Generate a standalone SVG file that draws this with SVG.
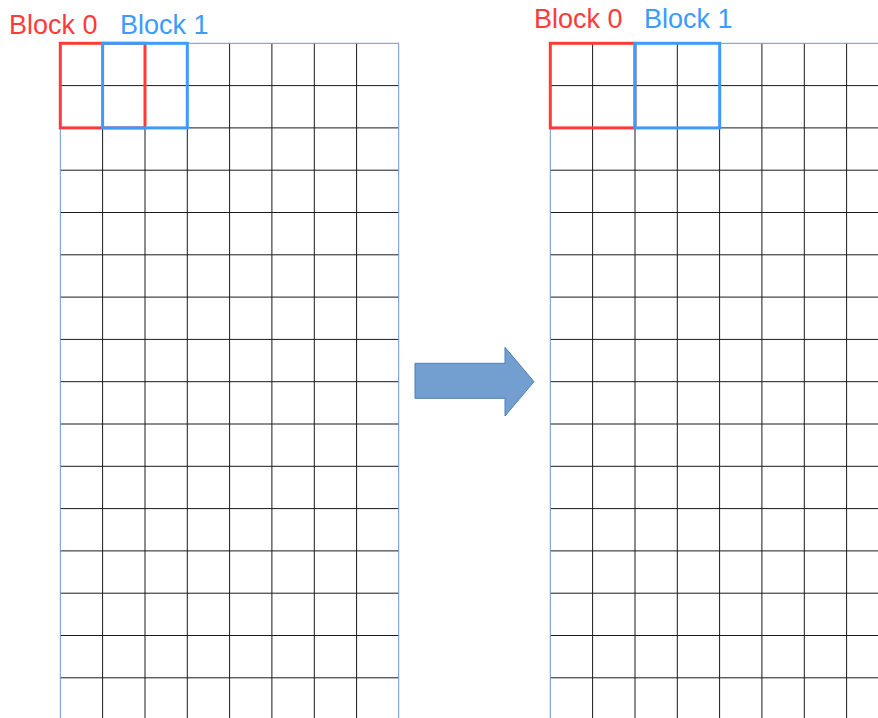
<svg xmlns="http://www.w3.org/2000/svg" width="878" height="718" viewBox="0 0 878 718">
<style>
.grid{stroke:#1a1a1a;stroke-width:1;fill:none}
.border{stroke:#6a94cf;stroke-width:1;fill:none}
.red{stroke:#ff3a3a;stroke-width:3;fill:none}
.blue{stroke:#3d9bff;stroke-width:3;fill:none}
.lbl{font-family:"Liberation Sans",Arial,sans-serif;font-size:27px}
</style>
<rect width="878" height="718" fill="#fff"/>
<g id="grid-left">
<g class="grid">
<path d="M102.6,43.3V718 M145,43.3V718 M187.3,43.3V718 M229.6,43.3V718 M271.9,43.3V718 M314.3,43.3V718 M356.6,43.3V718"/>
<path d="M60.3,85.6H398.7 M60.3,127.9H398.7 M60.3,170.2H398.7 M60.3,212.5H398.7 M60.3,254.8H398.7 M60.3,297.1H398.7 M60.3,339.4H398.7 M60.3,381.7H398.7 M60.3,424H398.7 M60.3,466.3H398.7 M60.3,508.6H398.7 M60.3,550.9H398.7 M60.3,593.2H398.7 M60.3,635.5H398.7 M60.3,677.8H398.7"/>
</g>
<path class="border" d="M60.3,718V43.3H398.7V718"/>
</g>
<g id="grid-right">
<g class="grid">
<path d="M592.6,43.3V718 M635,43.3V718 M677.3,43.3V718 M719.6,43.3V718 M761.9,43.3V718 M804.3,43.3V718 M846.6,43.3V718"/>
<path d="M550.3,85.6H878 M550.3,127.9H878 M550.3,170.2H878 M550.3,212.5H878 M550.3,254.8H878 M550.3,297.1H878 M550.3,339.4H878 M550.3,381.7H878 M550.3,424H878 M550.3,466.3H878 M550.3,508.6H878 M550.3,550.9H878 M550.3,593.2H878 M550.3,635.5H878 M550.3,677.8H878"/>
</g>
<path class="border" d="M550.3,718V43.3H878"/>
</g>
<g id="block0-left"><rect class="red" x="60.3" y="43.3" width="84.7" height="84.6"/><text class="lbl" x="9" y="34.3" fill="#ff3a3a">Block 0</text></g>
<g id="block1-left"><rect class="blue" x="102.6" y="43.3" width="84.7" height="84.6"/><text class="lbl" x="120" y="34.3" fill="#3d9bff">Block 1</text></g>
<g id="block0-right"><rect class="red" x="550.3" y="43.3" width="84.7" height="84.6"/><text class="lbl" x="534" y="28.3" fill="#ff3a3a">Block 0</text></g>
<g id="block1-right"><rect class="blue" x="635" y="43.3" width="84.7" height="84.6"/><text class="lbl" x="644" y="28.3" fill="#3d9bff">Block 1</text></g>
<g id="arrow">
<path d="M415,363.3H505V347.3L534,381.7L505,416V398.3H415Z" fill="#729fcf" stroke="#4f7fb5" stroke-width="1"/>
</g>
</svg>
